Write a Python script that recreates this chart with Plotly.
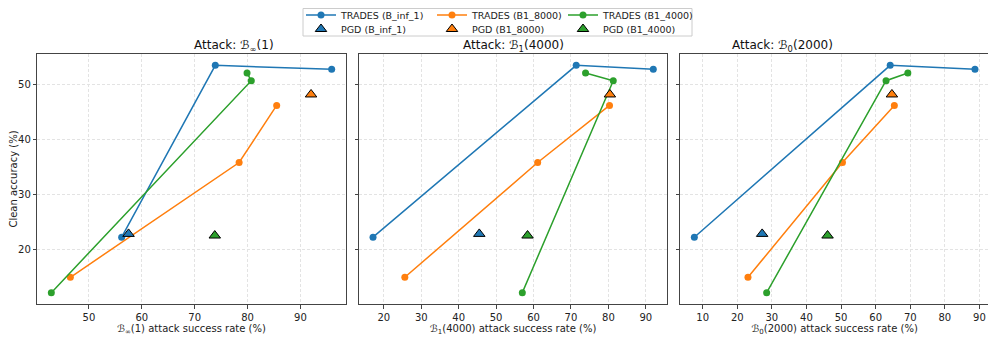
import plotly.graph_objects as go
from plotly.subplots import make_subplots

models = ["B_inf_1", "B1_8000", "B1_4000"]
colores = ["#1f77b4", "#ff7f0e", "#2ca02c"]

# clean accuracy (%) of the 3 TRADES checkpoints per model, and of the PGD model
clean_inf = [22.2, 53.5, 52.8]
clean_8000 = [14.9, 35.8, 46.2]
clean_4000 = [12.1, 50.7, 52.1]
clean_pgd = [22.8, 48.2, 22.5]  # B_inf_1, B1_8000, B1_4000

# attack success rate (%) - B_inf(1)
linf_inf = [56.2, 73.9, 95.9]
linf_8000 = [46.5, 78.4, 85.5]
linf_4000 = [42.9, 80.7, 79.9]
linf_pgd = [57.5, 92.0, 73.8]

# attack success rate (%) - B_1(4000)
l1_inf = [17.1, 71.4, 92.0]
l1_8000 = [25.6, 61.1, 80.3]
l1_4000 = [57.0, 81.3, 73.9]
l1_pgd = [45.5, 80.4, 58.4]

# attack success rate (%) - B_0(2000)
l0_inf = [7.6, 64.2, 88.7]
l0_8000 = [23.1, 50.4, 65.4]
l0_4000 = [28.5, 63.0, 69.3]
l0_pgd = [27.2, 64.7, 46.1]

ataques = ["ℬ<sub>∞</sub>(1)", "ℬ<sub>1</sub>(4000)", "ℬ<sub>0</sub>(2000)"]
paneles = [
    [linf_inf, linf_8000, linf_4000, linf_pgd],
    [l1_inf, l1_8000, l1_4000, l1_pgd],
    [l0_inf, l0_8000, l0_4000, l0_pgd],
]
clean = [clean_inf, clean_8000, clean_4000]


def rango(vals):
    lo, hi = min(vals), max(vals)
    pad = (hi - lo) * 0.05
    return [lo - pad, hi + pad]


# la pagina tiene 8px de margen en el body, el grafico se corre 8px
OFF = 8
W, H = 996 - OFF, 340 - OFF
fig = make_subplots(rows=1, cols=3)

for c, panel in enumerate(paneles):
    col = c + 1
    for i in range(3):
        fig.add_trace(go.Scatter(
            x=panel[i], y=clean[i], mode="lines+markers",
            name="TRADES (" + models[i] + ")", legend="legend",
            line=dict(color=colores[i], width=1.5),
            marker=dict(color=colores[i], size=7, symbol="circle"),
            showlegend=(c == 0)), row=1, col=col)
    for i in range(3):
        fig.add_trace(go.Scatter(
            x=[panel[3][i]], y=[clean_pgd[i]], mode="markers",
            name="PGD (" + models[i] + ")", legend="legend2",
            marker=dict(color=colores[i], size=10, symbol="triangle-up",
                        line=dict(color="black", width=1)),
            showlegend=(c == 0)), row=1, col=col)

todos_y = clean_inf + clean_8000 + clean_4000 + clean_pgd
yr = rango(todos_y)

dominios = [(37.3, 345.7), (359.0, 667.3), (680.3, 989.0)]
ytop, ybot = 54.0, 304.0

eje = dict(showline=True, mirror=True, linecolor="#444", linewidth=1,
           ticks="outside", ticklen=3.5, tickcolor="#444", automargin=False,
           showgrid=True, gridcolor="#e3e3e3", griddash="3px,2px", gridwidth=0.8,
           zeroline=False, tickfont=dict(size=10, color="#222"))

for c, panel in enumerate(paneles):
    xs = panel[0] + panel[1] + panel[2] + panel[3]
    d = dominios[c]
    fig.update_xaxes(eje, range=rango(xs), dtick=10,
                     domain=[(d[0] - OFF) / W, (d[1] - OFF) / W], row=1, col=c + 1,
                     title=dict(text=ataques[c] + " attack success rate (%)",
                                font=dict(size=10, color="#222"), standoff=3))
    fig.update_yaxes(eje, range=yr, dtick=10,
                     domain=[1 - (ybot - OFF) / H, 1 - (ytop - OFF) / H], row=1, col=c + 1,
                     showticklabels=(c == 0))
    fig.add_annotation(text="Attack: " + ataques[c], xref="paper", yref="paper",
                       x=((d[0] + d[1]) / 2 - OFF) / W, y=1 - (46 - OFF) / H,
                       showarrow=False, font=dict(size=12, color="#111"), yanchor="middle")

fig.update_yaxes(title=dict(text="Clean accuracy (%)", font=dict(size=10, color="#222"),
                            standoff=4), row=1, col=1)

# caja de la leyenda
fig.add_shape(type="rect", xref="paper", yref="paper",
              x0=(303 - OFF) / W, x1=(692 - OFF) / W, y0=1 - (36 - OFF) / H,
              y1=1 - 0.5 / H,
              line=dict(color="#cccccc", width=1), fillcolor="rgba(255,255,255,0.85)",
              layer="above")

ley = dict(orientation="h", x=(497.5 - OFF) / W, xanchor="center", yanchor="middle",
           bgcolor="rgba(0,0,0,0)", borderwidth=0, font=dict(size=9.5),
           entrywidth=86, itemwidth=30)

fig.update_layout(
    width=W, height=H, margin=dict(l=0, r=0, t=0, b=0, autoexpand=False),
    plot_bgcolor="white", paper_bgcolor="white",
    font=dict(family="DejaVu Sans", size=10, color="#222"),
    legend=dict(ley, y=1 - (15 - OFF) / H),
    legend2=dict(ley, y=1 - (29 - OFF) / H),
)

fig.write_html("out.html")
